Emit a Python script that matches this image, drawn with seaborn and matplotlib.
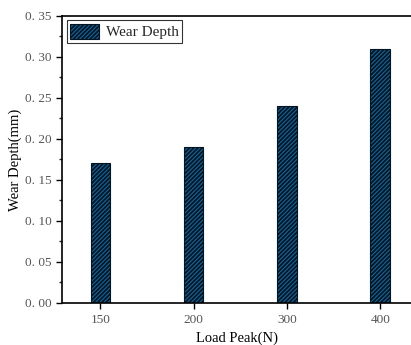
import matplotlib
matplotlib.use("Agg")
import matplotlib.pyplot as plt
import seaborn as sns
import pandas as pd
from matplotlib.ticker import MultipleLocator, FixedLocator, FixedFormatter

loads = ["150", "200", "300", "400"]
wear_depth = [0.17, 0.19, 0.24, 0.31]
ytick_vals = [0.00, 0.05, 0.10, 0.15, 0.20, 0.25, 0.30, 0.35]
ytick_labels = ["0. 00", "0. 05", "0. 10", "0. 15", "0. 20", "0. 25", "0. 30", "0. 35"]

sns.set_style("ticks")
plt.rcParams['font.family'] = ['Liberation Serif', 'DejaVu Serif']
plt.rcParams['hatch.linewidth'] = 1.3
plt.rcParams['hatch.color'] = '#06141f'

df = pd.DataFrame({"Load Peak(N)": loads, "Wear Depth": wear_depth})

fig = plt.figure(figsize=(4.11, 3.45), dpi=100)
ax = fig.add_axes([0.151, 0.122, 0.849, 0.832])

sns.barplot(data=df, x="Load Peak(N)", y="Wear Depth", ax=ax, color="#0b68a3",
            width=0.21, saturation=1, edgecolor="#06141f", linewidth=0.8,
            hatch="////////", label="Wear Depth")

ax.set_xlim(-0.41, 3.33)
ax.set_ylim(0, 0.35)
ax.yaxis.set_major_locator(FixedLocator(ytick_vals))
ax.yaxis.set_major_formatter(FixedFormatter(ytick_labels))
ax.yaxis.set_minor_locator(MultipleLocator(0.025))

for s in ["left", "bottom", "top"]:
    ax.spines[s].set_linewidth(1.2)
    ax.spines[s].set_color("black")
ax.spines["right"].set_visible(False)

ax.tick_params(axis="both", which="major", direction="out", length=4, width=1,
               labelsize=9.5, colors="black")
ax.tick_params(axis="y", which="minor", direction="out", length=2, width=1)
ax.tick_params(axis="x", which="major", pad=4)
for lab in ax.get_xticklabels() + ax.get_yticklabels():
    lab.set_color("#555555")

ax.set_xlabel("Load Peak(N)", fontsize=10.5, color="black")
ax.set_ylabel("Wear Depth(mm)", fontsize=10.5, color="black", labelpad=2)

leg = ax.legend(loc="upper left", fontsize=11, frameon=True, fancybox=False,
                edgecolor="black", borderpad=0.2, handlelength=1.95, handleheight=1.2,
                handletextpad=0.4, borderaxespad=0.3)
leg.get_frame().set_linewidth(0.8)

fig.savefig("out.png", dpi=100)
